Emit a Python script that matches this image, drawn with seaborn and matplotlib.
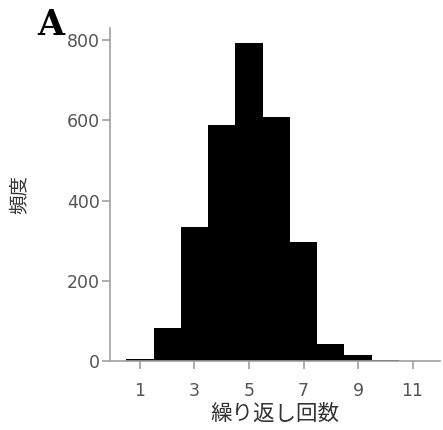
import matplotlib
matplotlib.use("Agg")
import matplotlib.pyplot as plt
from matplotlib import font_manager
import seaborn as sns
import pandas as pd

# Number of repetitions and how often each occurred
repeats = [1, 2, 3, 4, 5, 6, 7, 8, 9, 10, 11]
counts = [6, 82, 334, 588, 792, 608, 297, 44, 16, 3, 1]
xticks = [1, 3, 5, 7, 9, 11]
yticks = [0, 200, 400, 600, 800]

sns.set_theme(style="ticks")
plt.rcParams["font.family"] = ["DejaVu Sans", "Noto Sans CJK JP"]

df = pd.DataFrame({"repeats": repeats, "counts": counts})

fig = plt.figure(figsize=(4.43, 4.30), dpi=100)
ax = fig.add_axes([0.248, 0.160, 0.745, 0.775])

sns.histplot(data=df, x="repeats", weights="counts", discrete=True,
             color="black", edgecolor="none", alpha=1, ax=ax)

ax.set_xlim(-0.1, 12.0)
ax.set_ylim(0, 830)
ax.set_xticks(xticks)
ax.set_yticks(yticks)

grey = "#a0a0a0"
for side in ("top", "right"):
    ax.spines[side].set_visible(False)
for side in ("left", "bottom"):
    ax.spines[side].set_color(grey)
    ax.spines[side].set_linewidth(1.2)
ax.tick_params(axis="both", colors=grey, labelcolor="#555555",
               labelsize=12.5, length=6, width=1.2)
ax.tick_params(axis="x", pad=9)
ax.tick_params(axis="y", pad=1)

cjk = ["Noto Sans CJK JP", "DejaVu Sans"]
ax.set_xlabel("繰り返し回数", fontsize=15.5, color="#333333",
              family=cjk, labelpad=2)
ax.set_ylabel("")
fig.text(20 / 443, 1 - 195 / 430, "頻度", fontsize=14, color="#333333",
         family=cjk, rotation=90, ha="center", va="center")

# Panel letter in a bold slab-serif face
panel = font_manager.FontProperties(family=["DejaVu Serif"], weight="bold", size=25)
fig.text(37 / 443, 1 - 35 / 430, "A", fontproperties=panel,
         va="baseline", ha="left", color="black")

fig.savefig("out.png", dpi=100)
